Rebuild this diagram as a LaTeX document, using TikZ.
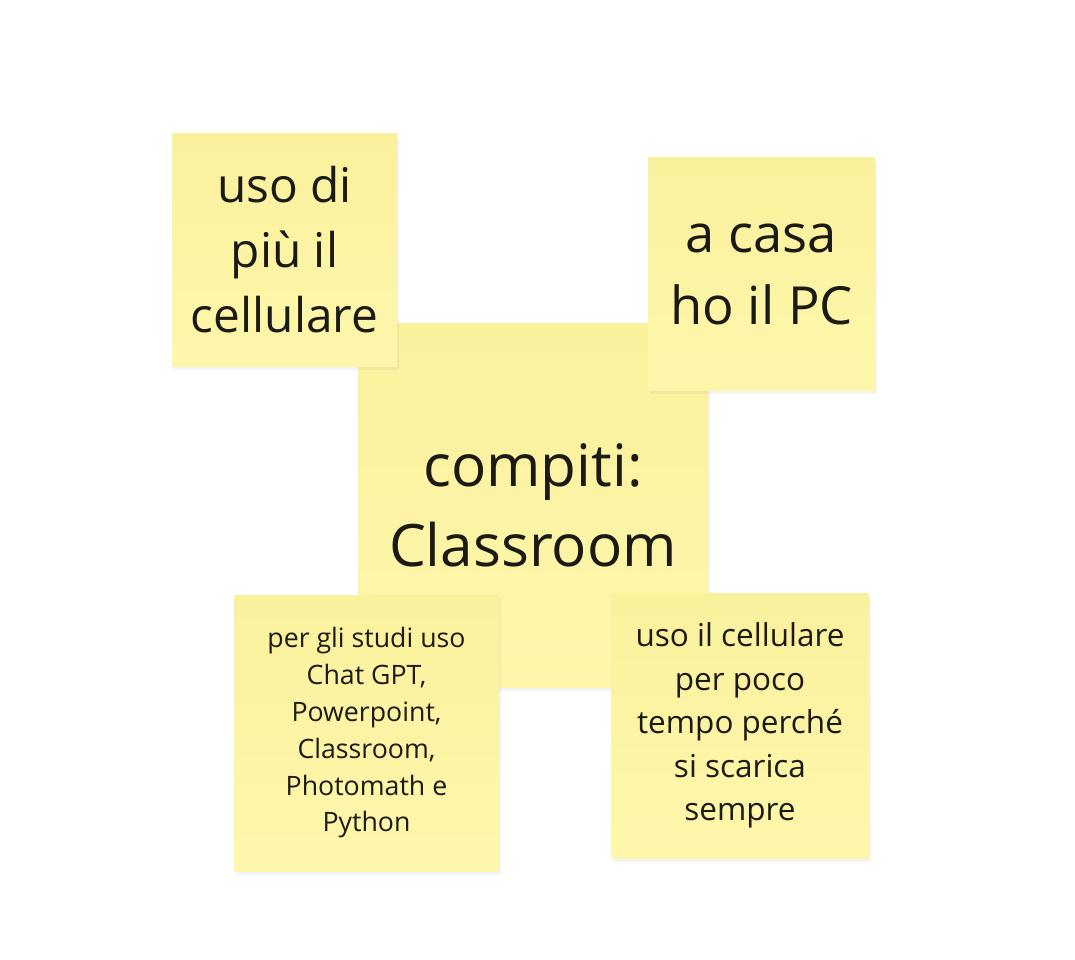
\documentclass[tikz,border=0pt]{standalone}
\usepackage{fontspec}
\setmainfont{Open Sans}
\usetikzlibrary{shadows}
\definecolor{notetop}{HTML}{FAF19D}
\definecolor{notebot}{HTML}{FEF7AB}
\definecolor{ink}{HTML}{1C1A14}
\tikzset{
  sticky/.style={rectangle, inner sep=0pt, align=center, text=ink,
    top color=notetop, bottom color=notebot,
    drop shadow={opacity=0.09, shadow xshift=2pt, shadow yshift=-4pt}},
}
\begin{document}
\begin{tikzpicture}[x=1pt,y=-1pt]
\useasboundingbox[fill=white] (0,0) rectangle (1075,960);
\node[sticky, minimum width=350pt, minimum height=364pt,
  font=\fontsize{58.5}{80}\selectfont] (center) at (533,505) {compiti:\\Classroom};
\node[sticky, minimum width=225pt, minimum height=232pt,
  font=\fontsize{47.8}{65}\selectfont] (tl) at (284.5,250) {uso di\\più il\\cellulare};
\node[sticky, minimum width=227pt, minimum height=232pt,
  font=\fontsize{52.5}{72}\selectfont] (tr) at (761.5,274) {a casa\\ho il PC};
\node[sticky, minimum width=265pt, minimum height=276pt,
  font=\fontsize{26.7}{36.8}\selectfont] (bl) at (366.5,733) {per gli studi uso\\Chat GPT,\\Powerpoint,\\Classroom,\\Photomath e\\Python};
\node[sticky, minimum width=258pt, minimum height=265pt,
  font=\fontsize{31.5}{43.6}\selectfont] (br) at (740,725.5) {uso il cellulare\\per poco\\tempo perché\\si scarica\\sempre};
\end{tikzpicture}
\end{document}
